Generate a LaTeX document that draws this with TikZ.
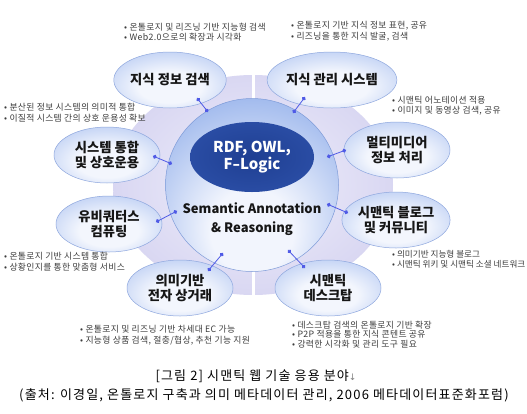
\documentclass[tikz,border=0pt]{standalone}
\usepackage{fontspec}
\setmainfont{Noto Sans CJK KR}
\newfontfamily\symfont{DejaVu Sans}
\newfontfamily\capfont[LetterSpace=9]{Noto Sans CJK KR}
\newfontfamily\descfont[LetterSpace=4]{Noto Sans CJK KR}
\usetikzlibrary{shapes.geometric,arrows.meta}

\definecolor{bgin}{HTML}{F1F0FB}
\definecolor{bgout}{HTML}{D9D7F2}
\definecolor{corelight}{HTML}{F2F5FD}
\definecolor{coremid}{HTML}{9AB5EC}
\definecolor{coreedge}{HTML}{5583D3}
\definecolor{coreline}{HTML}{7E9BD8}
\definecolor{satlight}{HTML}{F3F6FD}
\definecolor{satmid}{HTML}{B4C8F2}
\definecolor{satedge}{HTML}{7A9BE2}
\definecolor{satline}{HTML}{8EA7DE}
\definecolor{innerdark}{HTML}{1F3F92}
\definecolor{innermid}{HTML}{2B4EA6}
\definecolor{inneredge}{HTML}{4F78C8}
\definecolor{conncol}{HTML}{4F5AE6}
\definecolor{desccol}{HTML}{3C3C3C}
\definecolor{labcol}{HTML}{161616}

\pgfdeclareradialshading{coreshade}{\pgfpoint{0bp}{-16bp}}{%
  color(0bp)=(corelight); color(12bp)=(corelight); color(36bp)=(coremid);
  color(58bp)=(coreedge); color(72bp)=(coreedge)}
\pgfdeclareradialshading{satshade}{\pgfpoint{0bp}{-8bp}}{%
  color(0bp)=(satlight); color(14bp)=(satlight); color(36bp)=(satmid);
  color(52bp)=(satedge); color(64bp)=(satedge)}
\pgfdeclareradialshading{innershade}{\pgfpoint{0bp}{0bp}}{%
  color(0bp)=(innerdark); color(28bp)=(innermid); color(46bp)=(inneredge);
  color(52bp)=(inneredge!80!coremid); color(60bp)=(inneredge!80!coremid)}

\tikzset{
  sat/.style={ellipse, shade, shading=satshade, draw=satline, line width=0.5pt,
    minimum width=106pt, minimum height=56pt, inner sep=0pt, align=center,
    text=labcol, font=\fontsize{13.3}{15}\selectfont\bfseries},
  conn/.style={draw=conncol, line width=0.8pt, {Circle[length=4pt]}-{Circle[length=4pt]}},
  desc/.style={anchor=west, align=left, inner sep=0pt, text=desccol,
    font=\descfont\fontsize{8.8}{10.5}\selectfont},
}

\begin{document}
\begin{tikzpicture}[x=1pt,y=-1pt]
\useasboundingbox (0,0) rectangle (527,413);
\fill[white] (0,0) rectangle (527,413);

% background disc
\shade[inner color=bgin, outer color=bgout] (253,185) ellipse [x radius=140pt, y radius=110pt];
\draw[white, line width=3pt] (253,70) -- (253,300);

% central sphere
\node[circle, shade, shading=coreshade, draw=coreline, line width=0.5pt,
      minimum size=173pt, inner sep=0pt] (core) at (252,185) {};
\node[ellipse, shade, shading=innershade, minimum width=124pt, minimum height=70pt,
      inner sep=0pt, align=center, text=white,
      font=\fontsize{15}{17}\selectfont\bfseries] (inner) at (252,157) {RDF, OWL,\\F{\symfont –}Logic};
\node[align=center, inner sep=0pt, text=labcol,
      font=\fontsize{13}{18.5}\selectfont\bfseries] (sem) at (252,219) {Semantic Annotation\\\& Reasoning};

% satellites
\node[sat] (s1) at (170,80) {지식 정보 검색};
\node[sat] (s2) at (332,80) {지식 관리 시스템};
\node[sat] (s3) at (107,155) {시스템 통합\\및 상호운용};
\node[sat] (s4) at (397,150) {멀티미디어\\정보 처리};
\node[sat] (s5) at (109,224) {유비쿼터스\\컴퓨팅};
\node[sat] (s6) at (396,220) {시맨틱 블로그\\및 커뮤니티};
\node[sat] (s7) at (180,288) {의미기반\\전자 상거래};
\node[sat] (s8) at (328,288) {시맨틱\\데스크탑};

% connector end points
\coordinate (a1) at (197,98);  \coordinate (b1) at (208,112);
\coordinate (a2) at (305,97);  \coordinate (b2) at (293,113);
\coordinate (a3) at (153,156); \coordinate (b3) at (172,164);
\coordinate (a4) at (346,150); \coordinate (b4) at (327,157);
\coordinate (a5) at (156,222); \coordinate (b5) at (177,211);
\coordinate (a6) at (348,213); \coordinate (b6) at (327,204);
\coordinate (a7) at (208,271); \coordinate (b7) at (223,253);
\coordinate (a8) at (305,268); \coordinate (b8) at (288,250);
\foreach \i in {1,...,8} \draw[conn] (a\i) -- (b\i);

% descriptions
\node[desc] (d1) at (124,32) {• 온톨로지 및 리즈닝 기반 지능형 검색\\• Web2.0으로의 확장과 시각화};
\node[desc] (d2) at (291,31) {• 온톨로지 기반 지식 정보 표현, 공유\\• 리즈닝을 통한 지식 발굴, 검색};
\node[desc] (d3) at (4,112.5) {• 분산된 정보 시스템의 의미적 통합\\• 이질적 시스템 간의 상호 운용성 확보};
\node[desc] (d4) at (392,105.5) {• 시맨틱 어노테이션 적용\\• 이미지 및 동영상 검색, 공유};
\node[desc] (d5) at (4,261.5) {• 온톨로지 기반 시스템 통합\\• 상황인지를 통한 맞춤형 서비스};
\node[desc, font=\fontsize{8.6}{10.5}\selectfont] (d6) at (392,259) {• 의미기반 지능형 블로그\\• 시맨틱 위키 및 시맨틱 소셜 네트워크};
\node[desc] (d7) at (80,335) {• 온톨로지 및 리즈닝 기반 차세대 EC 가능\\• 지능형 상품 검색, 절충/협상, 추천 기능 지원};
\node[desc, font=\descfont\fontsize{8.8}{9.6}\selectfont] (d8) at (292,334.5) {• 데스크탑 검색의 온톨로지 기반 확장\\• P2P 적용을 통한 지식 콘텐트 공유\\• 강력한 시각화 및 관리 도구 필요};

% caption
\node[inner sep=0pt, font=\capfont\fontsize{13}{14}\selectfont] (cap) at (256,376) {[그림 2] 시맨틱 웹 기술 응용 분야{\color{gray}\symfont\fontsize{9}{10}\selectfont ↓}};
\node[inner sep=0pt, font=\capfont\fontsize{13}{14}\selectfont] (src) at (264,395) {(출처: 이경일, 온톨로지 구축과 의미 메타데이터 관리, 2006 메타데이터표준화포럼)};
\end{tikzpicture}
\end{document}
